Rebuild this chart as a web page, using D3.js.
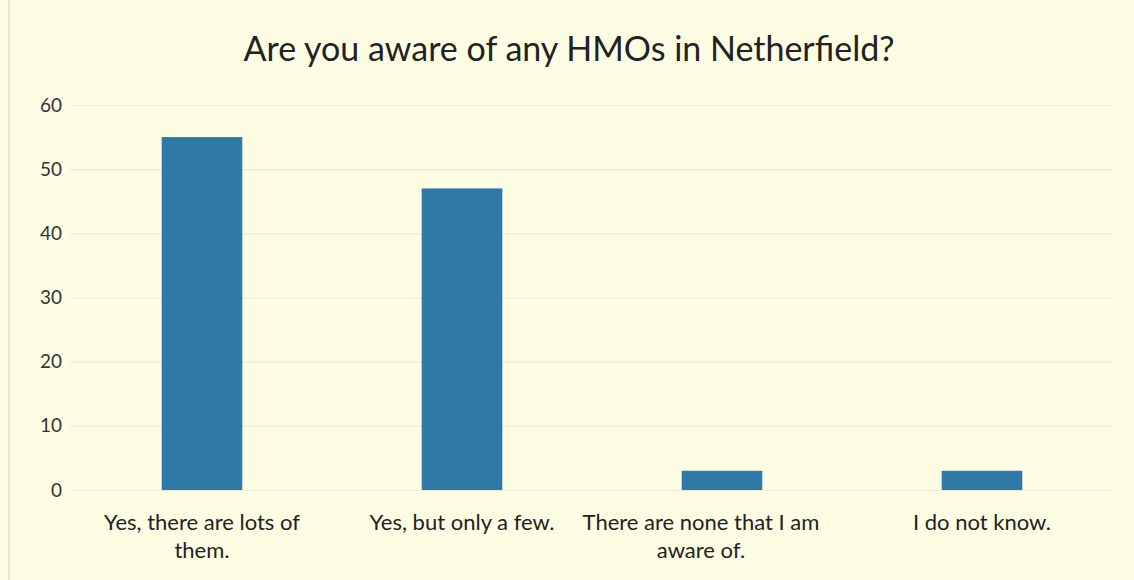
<!DOCTYPE html>
<html><head><meta charset="utf-8">
<script src="https://cdn.jsdelivr.net/npm/d3@7"></script>
<style>
html,body{margin:0;padding:0;background:#fdfde4;}
svg{display:block;}
</style></head>
<body>
<svg id="chart" width="1134" height="580"></svg>
<script>
const categories = [["Yes, there are lots of","them."],["Yes, but only a few."],["There are none that I am","aware of."],["I do not know."]];
const values = [55, 47, 3, 3];
const yTicks = [0,10,20,30,40,50,60];
const title = "Are you aware of any HMOs in Netherfield?";

const W = 1134, H = 580;
const svg = d3.select("#chart");
const font = "Lato, 'Open Sans', sans-serif";

svg.append("rect").attr("width",W).attr("height",H).attr("fill","#fdfde4");
svg.append("line").attr("x1",9).attr("x2",9).attr("y1",0).attr("y2",H).attr("stroke","#e9e9cf").attr("stroke-width",2);

const x = d3.scaleBand().domain(d3.range(categories.length)).range([72,1112]).paddingInner(0.69).paddingOuter(0.345);
const y = d3.scaleLinear().domain([0,60]).range([490,105]);

const yAxis = d3.axisLeft(y).tickValues(yTicks).tickSize(-(1112-70)).tickPadding(8);
const gy = svg.append("g").attr("transform","translate(70,0)").call(yAxis);
gy.select(".domain").remove();
gy.selectAll(".tick line").attr("stroke","#ececd2").attr("stroke-width",1.2);
gy.selectAll(".tick text").attr("font-family",font).attr("font-size",19).attr("fill","#333").attr("x",-8);

svg.append("g").selectAll("rect").data(values).join("rect")
  .attr("x",(d,i)=>x(i)).attr("width",x.bandwidth())
  .attr("y",d=>y(d)).attr("height",d=>y(0)-y(d))
  .attr("fill","#2f79a9");

const xl = svg.append("g");
categories.forEach((lines,i)=>{
  // the long third label is pushed left in the original, as the chart tool did
  const cx = x(i)+x.bandwidth()/2 - (i===2 ? 21 : 0);
  const t = xl.append("text").attr("x",cx).attr("y",530)
    .attr("text-anchor","middle").attr("font-family",font).attr("font-size",22).attr("fill","#222");
  lines.forEach((l,j)=>t.append("tspan").attr("x",cx).attr("dy", j===0?0:28).text(l));
});

svg.append("text").attr("x",569).attr("y",61).attr("text-anchor","middle")
  .attr("font-family",font).attr("font-size",34).attr("fill","#222").text(title);
</script>
</body></html>
